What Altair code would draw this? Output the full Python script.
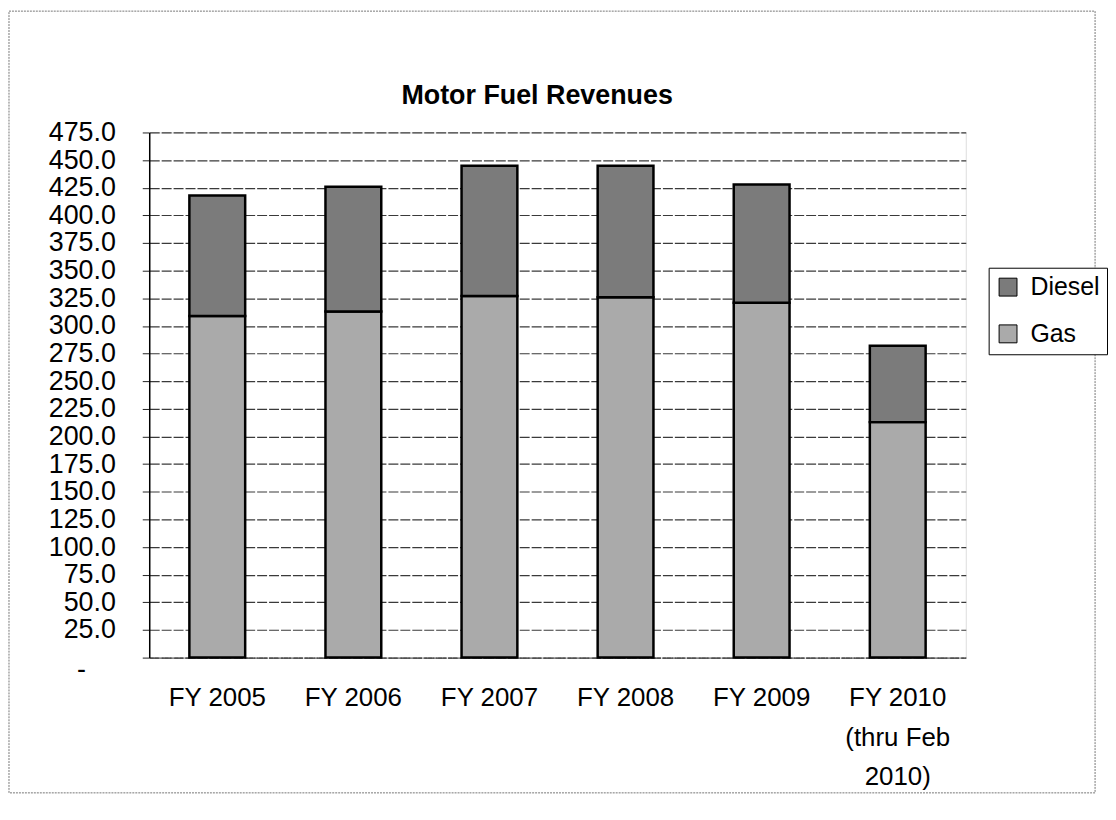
import altair as alt
import pandas as pd

FONT = "Liberation Sans"

chart_title = "Motor Fuel Revenues"
categories = ["FY 2005", "FY 2006", "FY 2007", "FY 2008", "FY 2009", "FY 2010|(thru Feb|2010)"]
gas = [309, 313, 327, 326, 321, 213]
diesel = [109, 113, 118, 119, 107, 69]
series = ["Diesel", "Gas"]
series_colors = ["#7b7b7b", "#aaaaaa"]
y_ticks = [0, 25, 50, 75, 100, 125, 150, 175, 200, 225, 250, 275, 300, 325, 350, 375, 400, 425, 450, 475]

rows = []
for c, g, d in zip(categories, gas, diesel):
    rows.append({"year": c, "fuel": "Gas", "value": g, "stack_order": 0})
    rows.append({"year": c, "fuel": "Diesel", "value": d, "stack_order": 1})
df = pd.DataFrame(rows)

W, H = 821, 528

bars = alt.Chart(df).mark_bar(stroke="black", strokeWidth=2.5).encode(
    x=alt.X(
        "year:N",
        sort=categories,
        title=None,
        scale=alt.Scale(paddingInner=0.59, paddingOuter=0.295),
        axis=alt.Axis(
            labelExpr="split(datum.label, '|')",
            labelFontSize=26,
            labelFont=FONT,
            labelColor="black",
            labelLineHeight=40,
            labelPadding=27,
            labelAngle=0,
            ticks=False,
            domainColor="#444444",
            domainDash=[4, 1],
            grid=False,
        ),
    ),
    y=alt.Y(
        "value:Q",
        stack="zero",
        title=None,
        scale=alt.Scale(domain=[0, 475], nice=False),
        axis=alt.Axis(
            values=y_ticks,
            labelExpr="datum.value == 0 ? '-' : format(datum.value, '.1f')",
            labelFontSize=27,
            labelFont=FONT,
            labelColor="black",
            labelPadding=alt.condition("datum.value == 0", alt.value(57), alt.value(27)),
            labelOffset=alt.condition("datum.value == 0", alt.value(12), alt.value(0)),
            tickSize=7,
            tickColor="#222222",
            domainColor="black",
            domainWidth=1.5,
            grid=True,
            gridColor="#3a3a3a",
            gridDash=[10, 2],
            gridWidth=1.2,
        ),
    ),
    color=alt.Color(
        "fuel:N",
        scale=alt.Scale(domain=series, range=series_colors),
        legend=alt.Legend(
            title=None,
            orient="none",
            legendX=844,
            legendY=136,
            symbolType="square",
            symbolSize=324,
            symbolStrokeColor="black",
            symbolStrokeWidth=1,
            labelFontSize=25,
            labelFont=FONT,
            labelColor="black",
            labelOffset=10,
            rowPadding=21,
            padding=7,
            strokeColor="black",
            fillColor="white",
        ),
    ),
    order=alt.Order("stack_order:Q"),
)

frame = alt.Chart(pd.DataFrame({"k": [0]})).mark_rect(
    filled=False, stroke="#777777", strokeWidth=1, strokeDash=[2, 1]
).encode(
    x=alt.value(-141), x2=alt.value(951), y=alt.value(-122), y2=alt.value(664)
)

title_mark = alt.Chart(pd.DataFrame({"t": [chart_title]})).mark_text(
    font=FONT, fontSize=27, fontWeight="bold", color="black", align="center", baseline="middle"
).encode(text="t:N", x=alt.value(390), y=alt.value(-37))

chart = alt.layer(frame, bars, title_mark).properties(
    width=W,
    height=H,
    padding=0,
).configure_view(
    stroke="#666666", strokeDash=[2, 2], strokeWidth=1
).configure(background="white")

chart.save("out.html", embed_options={"renderer": "svg", "actions": False})
